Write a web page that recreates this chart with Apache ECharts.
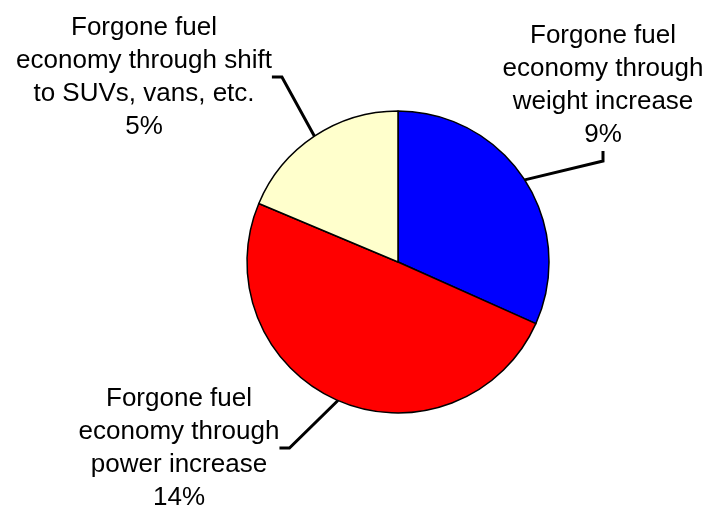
<!DOCTYPE html>
<html>
<head>
<meta charset="utf-8">
<script src="https://cdn.jsdelivr.net/npm/echarts@6/dist/echarts.min.js"></script>
<style>
  html, body { margin: 0; padding: 0; background: #fff; }
  #main { width: 706px; height: 506px; }
</style>
</head>
<body>
<div id="main"></div>
<script>
// data (slice sizes, labels show rounded %)
var names = [
    'Forgone fuel\neconomy through\nweight increase',
    'Forgone fuel\neconomy through\npower increase',
    'Forgone fuel\neconomy through shift\nto SUVs, vans, etc.'
];
var values = [9.0, 14.1, 5.3];
var colors = ['#0000ff', '#ff0000', '#ffffcc'];

// where each label sits (centre of text block)
var labelPos = [[603, 85], [179, 448], [144, 77]];

var myChart = echarts.init(document.getElementById('main'));

var option = {
    animation: false,
    backgroundColor: '#fff',
    series: [{
        type: 'pie',
        center: [398, 262],
        radius: 151,
        startAngle: 90,
        clockwise: true,
        data: values.map(function (v, i) {
            return { name: names[i], value: v, itemStyle: { color: colors[i] } };
        }),
        itemStyle: {
            borderColor: '#000',
            borderWidth: 1.5
        },
        label: {
            show: true,
            position: 'outside',
            formatter: function (p) { return p.name + '\n' + Math.round(p.value) + '%'; },
            color: '#000',
            fontFamily: 'Liberation Sans, Arial, sans-serif',
            fontSize: 26,
            lineHeight: 33,
            align: 'center',
            overflow: 'none'
        },
        labelLine: {
            show: true,
            length: 20,
            length2: 10,
            lineStyle: { color: '#000', width: 3 }
        },
        labelLayout: function (params) {
            var p = labelPos[params.dataIndex];
            return { x: p[0], y: p[1], align: 'center', verticalAlign: 'middle' };
        },
        emphasis: { disabled: true }
    }]
};
myChart.setOption(option);
</script>
</body>
</html>
